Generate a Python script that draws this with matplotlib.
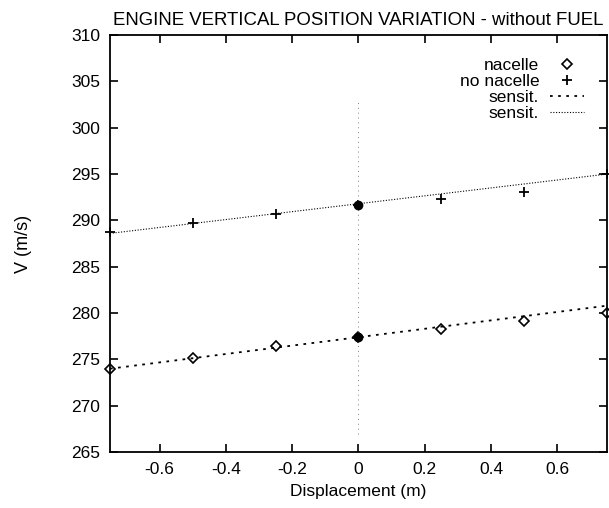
import matplotlib
matplotlib.use("Agg")
import matplotlib.pyplot as plt

plt.rcParams['font.family'] = ['Liberation Sans', 'DejaVu Sans']

# data
disp = [-0.75, -0.5, -0.25, 0.0, 0.25, 0.5, 0.75]
v_nacelle = [274.0, 275.2, 276.5, 277.4, 278.3, 279.1, 280.0]
v_no_nacelle = [288.8, 289.7, 290.7, 291.7, 292.3, 293.1, 295.0]
sens_x = [-0.75, 0.75]
sens_nacelle = [274.0, 280.8]
sens_no_nacelle = [288.6, 295.0]
ref_x = [0.0, 0.0]
ref_y = [267.0, 303.0]

fig = plt.figure(figsize=(6.09, 5.08), dpi=100)
ax = fig.add_axes([0.1806, 0.110, 0.816, 0.821])

ax.plot(disp, v_nacelle, ls='none', marker='D', ms=5, mfc='white', mec='black',
        mew=1.2, label='nacelle', clip_on=False)
ax.plot(disp, v_no_nacelle, ls='none', marker='+', ms=7, color='black', mew=1.3,
        label='no nacelle', clip_on=False)
ax.plot(sens_x, sens_nacelle, ls=(0, (1.5, 3)), color='black', lw=1.3, label='sensit.')
ax.plot(sens_x, sens_no_nacelle, ls=(0, (1, 1.5)), color='black', lw=0.8, label='sensit.')
ax.plot(ref_x, ref_y, ls=(0, (1, 4)), color='gray', lw=0.7)
# filled reference points at zero displacement
ax.plot([disp[3], disp[3]], [v_nacelle[3], v_no_nacelle[3]], ls='none', marker='o',
        ms=6, color='black')

ax.set_xlim(-0.75, 0.75)
ax.set_ylim(265, 310)
ax.set_xticks([-0.6, -0.4, -0.2, 0, 0.2, 0.4, 0.6])
ax.set_xticklabels(['-0.6', '-0.4', '-0.2', '0', '0.2', '0.4', '0.6'])
ax.set_yticks(range(265, 311, 5))
ax.tick_params(direction='in', top=True, right=True, length=6, width=1.2,
               labelsize=12.5, pad=7)
for s in ax.spines.values():
    s.set_linewidth(1.3)

ax.set_xlabel('Displacement (m)', fontsize=12.5, labelpad=5)
ax.set_ylabel('V (m/s)', fontsize=13, labelpad=28)
ax.set_title('ENGINE VERTICAL POSITION VARIATION - without FUEL', fontsize=13.4, pad=7)

ax.legend(loc='upper right', frameon=False, markerfirst=False, fontsize=12.5,
          handlelength=2.0, labelspacing=0.05, borderaxespad=0.9, handletextpad=0.6)

fig.savefig('out.png', dpi=100)
